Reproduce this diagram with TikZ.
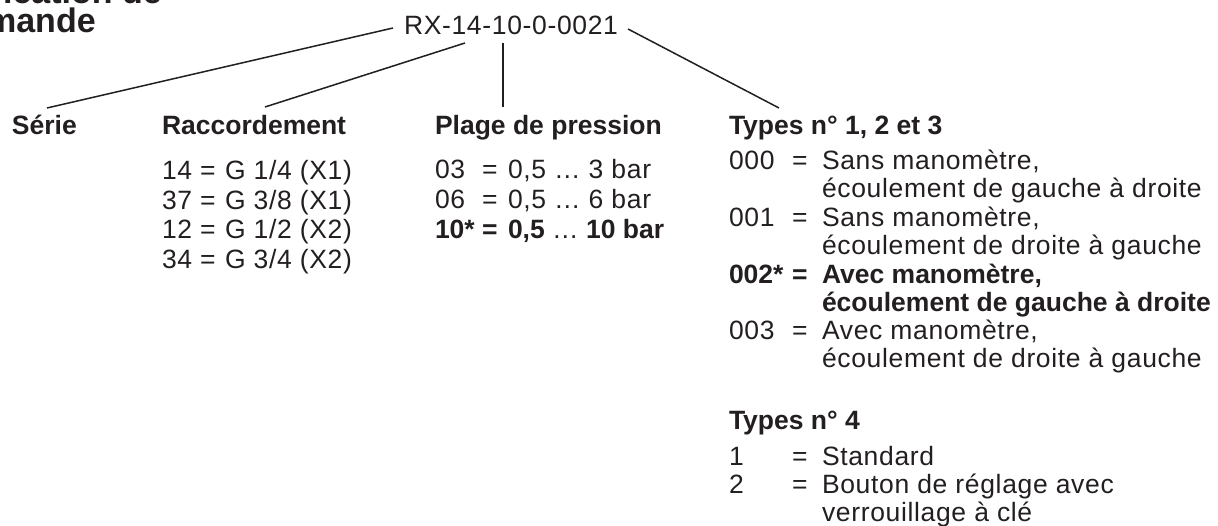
\documentclass[tikz,border=0pt]{standalone}
\usepackage{fontspec}
\setmainfont{Liberation Sans}
\newfontfamily\regf{Liberation Sans}[LetterSpace=2.5]
\definecolor{ink}{HTML}{231F20}
\tikzset{
  txt/.style={anchor=base west, inner sep=0pt, outer sep=0pt, text=ink, font=\fontsize{26.5}{28}\selectfont\regf},
  bld/.style={txt, font=\fontsize{26.5}{28}\selectfont\bfseries},
  ttl/.style={anchor=base west, inner sep=0pt, text=ink, font=\fontsize{34}{36}\selectfont\bfseries},
  conn/.style={draw=ink, line width=1.5pt}
}
\begin{document}
\begin{tikzpicture}[x=1pt,y=-1pt]
\useasboundingbox (0,0) rectangle (1218,526);
\clip (0,0) rectangle (1218,526);
% title (cut off)
\node[ttl] (t1) at (-84,4) {Codification de};
\node[ttl] (t2) at (-84,33) {commande};
% code
\node[txt] (code) at (404,35) {RX-14-10-0-0021};
% headers
\node[bld] (serie) at (12,135) {Série};
\node[bld] (racc) at (162,135) {Raccordement};
\node[bld] (plage) at (435,135) {Plage de pression};
\node[bld] (types) at (729,135) {Types n° 1, 2 et 3};
% connector end points
\coordinate (s1) at (393,28); \coordinate (s2) at (47,108);
\coordinate (r1) at (465,43); \coordinate (r2) at (265,107);
\coordinate (p1) at (503,43); \coordinate (p2) at (503,107);
\coordinate (q1) at (628,29); \coordinate (q2) at (779,108);
\draw[conn] (s1) -- (s2);
\draw[conn] (r1) -- (r2);
\draw[conn] (p1) -- (p2);
\draw[conn] (q1) -- (q2);
% Raccordement
\node[txt] (rk1) at (162,180) {14};
\node[txt] (re1) at (200,180) {=};
\node[txt] (rv1) at (225,180) {G 1/4 (X1)};
\node[txt] (rk2) at (162,209.5) {37};
\node[txt] (re2) at (200,209.5) {=};
\node[txt] (rv2) at (225,209.5) {G 3/8 (X1)};
\node[txt] (rk3) at (162,239) {12};
\node[txt] (re3) at (200,239) {=};
\node[txt] (rv3) at (225,239) {G 1/2 (X2)};
\node[txt] (rk4) at (162,268.5) {34};
\node[txt] (re4) at (200,268.5) {=};
\node[txt] (rv4) at (225,268.5) {G 3/4 (X2)};
% Plage
\node[txt] (pk1) at (435,179) {03};
\node[txt] (pe1) at (482,179) {=};
\node[txt] (pv1) at (508,179) {0,5 … 3 bar};
\node[txt] (pk2) at (435,209) {06};
\node[txt] (pe2) at (482,209) {=};
\node[txt] (pv2) at (508,209) {0,5 … 6 bar};
\node[bld] (pk3) at (435,239) {10*};
\node[bld] (pe3) at (482,239) {=};
\node[bld] (pv3) at (508,239) {0,5 {\mdseries…} 10 bar};
% Types 1,2,3
\node[txt] (tk1) at (729,170) {000};
\node[txt] (te1) at (792,170) {=};
\node[txt] (tv1) at (822,170) {Sans manomètre,};
\node[txt] (tw1) at (822,198) {écoulement de gauche à droite};
\node[txt] (tk2) at (729,227) {001};
\node[txt] (te2) at (792,227) {=};
\node[txt] (tv2) at (822,227) {Sans manomètre,};
\node[txt] (tw2) at (822,255) {écoulement de droite à gauche};
\node[bld] (tk3) at (729,284) {002*};
\node[bld] (te3) at (792,284) {=};
\node[bld] (tv3) at (822,284) {Avec manomètre,};
\node[bld] (tw3) at (822,312) {écoulement de gauche à droite};
\node[txt] (tk4) at (729,340) {003};
\node[txt] (te4) at (792,340) {=};
\node[txt] (tv4) at (822,340) {Avec manomètre,};
\node[txt] (tw4) at (822,368) {écoulement de droite à gauche};
% Types 4
\node[bld] (types4) at (729,429) {Types n° 4};
\node[txt] (uk1) at (729,465) {1};
\node[txt] (ue1) at (792,465) {=};
\node[txt] (uv1) at (822,465) {Standard};
\node[txt] (uk2) at (729,493) {2};
\node[txt] (ue2) at (792,493) {=};
\node[txt] (uv2) at (822,493) {Bouton de réglage avec};
\node[txt] (uw2) at (822,521) {verrouillage à clé};
\end{tikzpicture}
\end{document}
